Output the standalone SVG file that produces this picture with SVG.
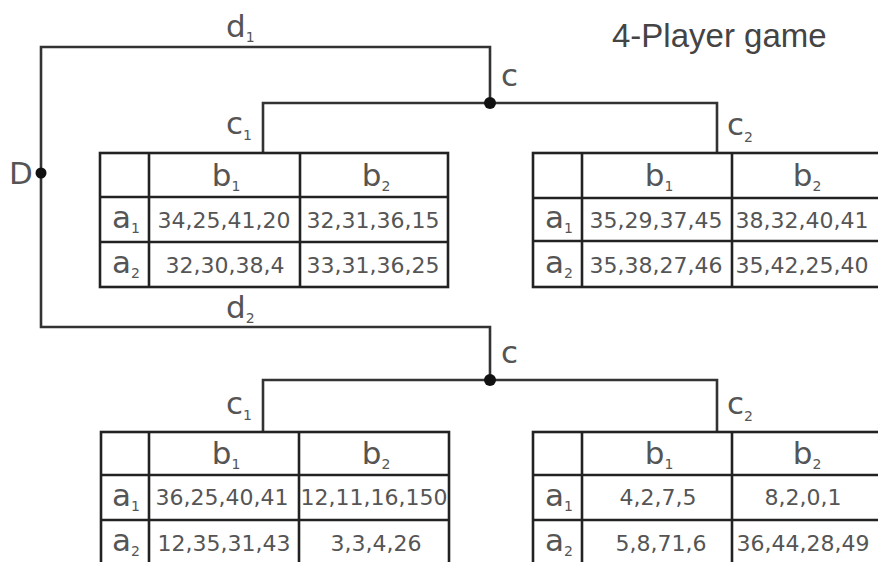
<svg xmlns="http://www.w3.org/2000/svg" width="878" height="562" viewBox="0 0 878 562">
<style>
.bg{fill:#ffffff}
.edge{fill:none;stroke:#333;stroke-width:2.6}
.grid{fill:none;stroke:#222;stroke-width:2.6}
.dot{fill:#111}
.lbl{font-family:"DejaVu Sans",sans-serif;font-size:31px;fill:#555}
.num{font-family:"DejaVu Sans",sans-serif;font-size:22px;fill:#555;text-anchor:middle}
.hd{font-family:"DejaVu Sans",sans-serif;font-size:31px;fill:#555;text-anchor:middle}
.sub{font-size:14px}
.title{font-family:"Liberation Sans",Arial,sans-serif;font-size:33px;fill:#444}
</style>
<rect class="bg" x="0" y="0" width="878" height="562"/>
<g id="connectors">
<path class="edge" d="M41,173 V47 H490 V103"/>
<path class="edge" d="M41,173 V327 H490 V380"/>
<path class="edge" d="M263,153 V103 H717 V153"/>
<path class="edge" d="M263,432 V380 H717 V432"/>
<text class="lbl" x="226" y="37">d<tspan class="sub" dy="5">1</tspan></text>
<text class="lbl" x="226" y="318">d<tspan class="sub" dy="5">2</tspan></text>
<text class="lbl" x="226" y="134">c<tspan class="sub" dy="6">1</tspan></text>
<text class="lbl" x="727" y="135">c<tspan class="sub" dy="7">2</tspan></text>
<text class="lbl" x="226" y="414">c<tspan class="sub" dy="6">1</tspan></text>
<text class="lbl" x="727" y="414">c<tspan class="sub" dy="7">2</tspan></text>
</g>
<g id="title"><text class="title" x="612" y="47">4-Player game</text></g>
<g id="node-D">
<circle class="dot" cx="41" cy="173" r="5.5"/>
<text class="lbl" x="9" y="184">D</text>
</g>
<g id="node-c-top">
<circle class="dot" cx="490" cy="103" r="6"/>
<text class="lbl" x="501" y="86">c</text>
</g>
<g id="node-c-bottom">
<circle class="dot" cx="490" cy="380" r="6"/>
<text class="lbl" x="501" y="363">c</text>
</g>
<g id="table-d1-c1">
<rect class="bg" x="100" y="153" width="348" height="134"/>
<rect class="grid" x="100" y="153" width="348" height="134"/>
<path class="grid" d="M149,153 V287 M300,153 V287 M100,197 H448 M100,242 H448"/>
<text class="hd" x="226" y="186">b<tspan class="sub" dy="5">1</tspan></text>
<text class="hd" x="376" y="186">b<tspan class="sub" dy="5">2</tspan></text>
<text class="hd" x="126" y="228">a<tspan class="sub" dy="5">1</tspan></text>
<text class="hd" x="126" y="273">a<tspan class="sub" dy="5">2</tspan></text>
<text class="num" x="224" y="228">34,25,41,20</text>
<text class="num" x="373" y="228">32,31,36,15</text>
<text class="num" x="225" y="273">32,30,38,4</text>
<text class="num" x="373" y="273">33,31,36,25</text>
</g>
<g id="table-d1-c2">
<rect class="bg" x="533" y="153" width="348" height="134"/>
<rect class="grid" x="533" y="153" width="348" height="134"/>
<path class="grid" d="M582,153 V287 M732,153 V287 M533,198 H881 M533,241 H881"/>
<text class="hd" x="659" y="186">b<tspan class="sub" dy="5">1</tspan></text>
<text class="hd" x="807" y="186">b<tspan class="sub" dy="5">2</tspan></text>
<text class="hd" x="559" y="228">a<tspan class="sub" dy="5">1</tspan></text>
<text class="hd" x="559" y="273">a<tspan class="sub" dy="5">2</tspan></text>
<text class="num" x="656" y="228">35,29,37,45</text>
<text class="num" x="802" y="228">38,32,40,41</text>
<text class="num" x="656" y="273">35,38,27,46</text>
<text class="num" x="802" y="273">35,42,25,40</text>
</g>
<g id="table-d2-c1">
<rect class="bg" x="101" y="432" width="348" height="133"/>
<rect class="grid" x="101" y="432" width="348" height="133"/>
<path class="grid" d="M149,432 V565 M299,432 V565 M101,475 H449 M101,520 H449"/>
<text class="hd" x="226" y="464">b<tspan class="sub" dy="5">1</tspan></text>
<text class="hd" x="376" y="464">b<tspan class="sub" dy="5">2</tspan></text>
<text class="hd" x="126" y="506">a<tspan class="sub" dy="5">1</tspan></text>
<text class="hd" x="126" y="551">a<tspan class="sub" dy="5">2</tspan></text>
<text class="num" x="222" y="505">36,25,40,41</text>
<text class="num" x="374" y="505">12,11,16,150</text>
<text class="num" x="224" y="551">12,35,31,43</text>
<text class="num" x="376" y="551">3,3,4,26</text>
</g>
<g id="table-d2-c2">
<rect class="bg" x="533" y="432" width="348" height="133"/>
<rect class="grid" x="533" y="432" width="348" height="133"/>
<path class="grid" d="M582,432 V565 M732,432 V565 M533,475 H881 M533,520 H881"/>
<text class="hd" x="659" y="464">b<tspan class="sub" dy="5">1</tspan></text>
<text class="hd" x="807" y="464">b<tspan class="sub" dy="5">2</tspan></text>
<text class="hd" x="559" y="506">a<tspan class="sub" dy="5">1</tspan></text>
<text class="hd" x="559" y="551">a<tspan class="sub" dy="5">2</tspan></text>
<text class="num" x="658" y="505">4,2,7,5</text>
<text class="num" x="803" y="505">8,2,0,1</text>
<text class="num" x="661" y="551">5,8,71,6</text>
<text class="num" x="803" y="551">36,44,28,49</text>
</g>
</svg>
